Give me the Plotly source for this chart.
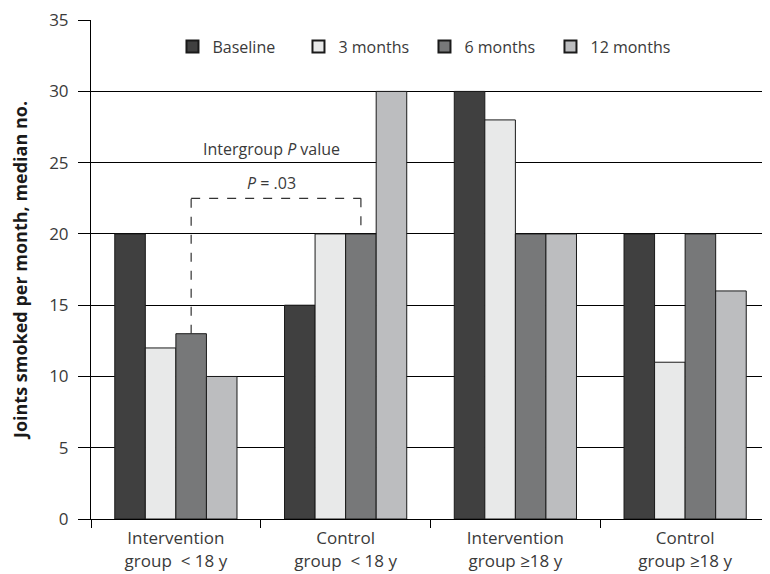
import plotly.graph_objects as go

categories = ["Intervention<br>group  < 18 y", "Control<br>group  < 18 y",
              "Intervention<br>group ≥18 y", "Control<br>group ≥18 y"]
series_names = ["Baseline", "3 months", "6 months", "12 months"]
baseline = [20, 15, 30, 20]
m3 = [12, 20, 28, 11]
m6 = [13, 20, 20, 20]
m12 = [10, 30, 20, 16]
colors = ["#404040", "#e8e9e9", "#777879", "#bcbdbf"]
yticks = [0, 5, 10, 15, 20, 25, 30, 35]

FONT = "Open Sans"
TXT = "#3a3a3a"
fig = go.Figure()
for name, vals, c in zip(series_names, [baseline, m3, m6, m12], colors):
    fig.add_trace(go.Bar(name=name, x=categories, y=vals, marker_color=c,
                         marker_line=dict(color="#1a1a1a", width=1)))

bargap = 0.28
w = (1 - bargap) / 4
x_left = 0 + 0.5 * w
x_right = 1 + 0.5 * w
ytop = 22.5
dash = dict(color="#333333", width=1.2, dash="dash")
fig.add_shape(type="line", x0=x_left, x1=x_left, y0=m6[0], y1=ytop, line=dash, xref="x", yref="y")
fig.add_shape(type="line", x0=x_left, x1=x_right, y0=ytop, y1=ytop, line=dash, xref="x", yref="y")
fig.add_shape(type="line", x0=x_right, x1=x_right, y0=ytop, y1=m6[1], line=dash, xref="x", yref="y")

fig.add_annotation(x=0.565, y=25.05, text="Intergroup <i>P</i> value", showarrow=False,
                   yanchor="bottom", font=dict(family=FONT, size=16, color=TXT))
fig.add_annotation(x=0.565, y=23.6, text="<i>P</i> = .03", showarrow=False,
                   yanchor="middle", font=dict(family=FONT, size=16, color=TXT))

# page body has an 8px margin, so the figure is offset by (8, 8)
fig.update_layout(
    width=762, height=566,
    margin=dict(l=83, r=0, t=12, b=55),
    plot_bgcolor="white", paper_bgcolor="white",
    barmode="group", bargap=bargap, bargroupgap=0,
    font=dict(family=FONT, size=16, color=TXT),
    showlegend=True,
    legend=dict(orientation="h", x=0.12, y=0.981, xanchor="left", yanchor="top",
                font=dict(family=FONT, size=16, color=TXT),
                entrywidth=81, entrywidthmode="pixels", bgcolor="rgba(0,0,0,0)",
                itemsizing="constant"),
    yaxis=dict(range=[0, 35.01], tickmode="array", tickvals=yticks,
               showgrid=True, gridcolor="#000000", gridwidth=1,
               showline=True, linecolor="#000000", linewidth=1,
               ticks="outside", ticklen=12, tickcolor="#000000", ticklabelstandoff=6,
               zeroline=False, tickfont=dict(family=FONT, size=17, color=TXT),
               title=dict(text="<b>Joints smoked per month, median no.</b>",
                          font=dict(family=FONT, size=18, color="#1a1a1a"), standoff=18)),
    xaxis=dict(showline=True, linecolor="#000000", linewidth=1, ticks="outside",
               tickson="boundaries", ticklen=8, tickcolor="#000000", ticklabelstandoff=4,
               tickfont=dict(family=FONT, size=17, color=TXT),
               range=[-0.5, 3.5]),
)
fig.write_html("out.html")
